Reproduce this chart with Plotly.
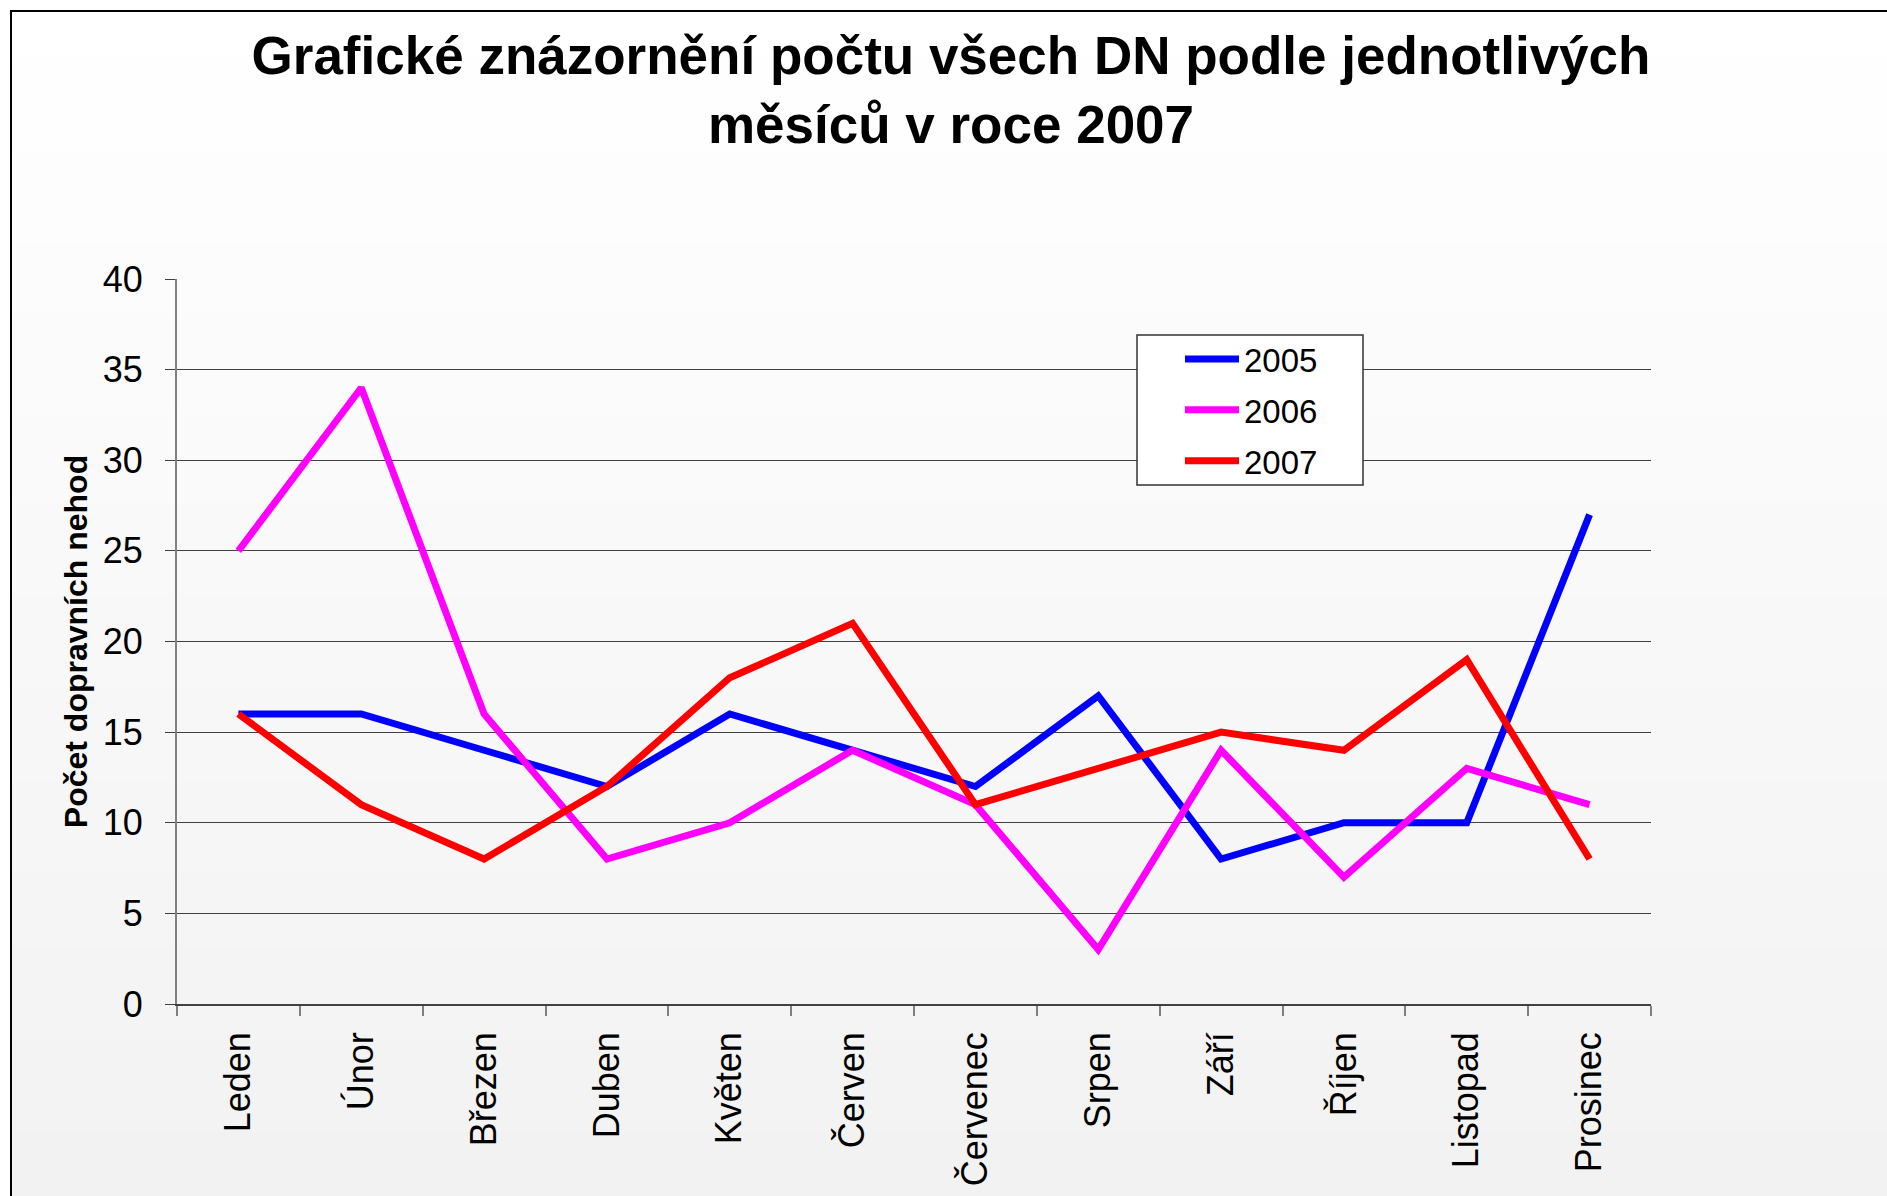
import zlib, struct, base64
import plotly.graph_objects as go

months = ["Leden", "Únor", "Březen", "Duben", "Květen", "Červen",
          "Červenec", "Srpen", "Září", "Říjen", "Listopad", "Prosinec"]
y2005 = [16, 16, 14, 12, 16, 14, 12, 17, 8, 10, 10, 27]
y2006 = [25, 34, 16, 8, 10, 14, 11, 3, 14, 7, 13, 11]
y2007 = [16, 11, 8, 12, 18, 21, 11, 13, 15, 14, 19, 8]
series_names = ["2005", "2006", "2007"]
series_colors = ["#0000FF", "#FF00FF", "#FF0000"]
y_ticks = [0, 5, 10, 15, 20, 25, 30, 35, 40]

W, H = 1887, 1196
L, R, T, B = 177, 1651, 279, 1004
PW, PH = R - L, B - T

def px_x(p):
    return (p - L) / PW

def px_y(p):
    return (B - p) / PH

def png_gray(vals, width=2):
    raw = b"".join(b"\x00" + bytes([v]) * width for v in vals)
    def chunk(t, d):
        c = struct.pack(">I", len(d)) + t + d
        return c + struct.pack(">I", zlib.crc32(t + d) & 0xffffffff)
    ihdr = struct.pack(">IIBBBBB", width, len(vals), 8, 0, 0, 0, 0)
    return (b"\x89PNG\r\n\x1a\n" + chunk(b"IHDR", ihdr)
            + chunk(b"IDAT", zlib.compress(raw)) + chunk(b"IEND", b""))

n = 64
grad = [round(255 - 13 * i / (n - 1)) for i in range(n)]
grad_uri = "data:image/png;base64," + base64.b64encode(png_gray(grad)).decode()

fig = go.Figure()
for name, vals, col in zip(series_names, [y2005, y2006, y2007], series_colors):
    fig.add_trace(go.Scatter(x=months, y=vals, name=name, mode="lines",
                             line=dict(color=col, width=7), legendgroup=name))

fig.update_layout(
    width=W, height=H,
    margin=dict(l=L, r=W - R, t=T, b=H - B, autoexpand=False),
    paper_bgcolor="white",
    plot_bgcolor="rgba(0,0,0,0)",
    font=dict(family="Liberation Sans, Arial, sans-serif", color="black"),
    title=dict(text="<b>Grafické znázornění počtu všech DN podle jednotlivých<br>měsíců v roce 2007</b>",
               x=951 / W, xanchor="center", y=1 - 74 / H, yanchor="top",
               font=dict(size=53, color="black")),
    showlegend=True,
    legend=dict(x=px_x(1180), y=px_y(331), xanchor="left", yanchor="top",
                bgcolor="rgba(0,0,0,0)", borderwidth=0,
                font=dict(size=33), traceorder="grouped", tracegroupgap=5,
                itemwidth=54),
    images=[dict(source=grad_uri, xref="paper", yref="paper",
                 x=px_x(11), y=px_y(11), sizex=(W - 11) / PW, sizey=(H - 11) / PH,
                 xanchor="left", yanchor="top", sizing="stretch", layer="below")],
    shapes=[
        dict(type="rect", xref="paper", yref="paper",
             x0=px_x(11), x1=px_x(W + 20), y0=px_y(H + 20), y1=px_y(11),
             line=dict(color="black", width=2), layer="below"),
        dict(type="rect", xref="paper", yref="paper",
             x0=px_x(1137), x1=px_x(1363), y0=px_y(485), y1=px_y(335),
             line=dict(color="#333333", width=1.5), fillcolor="white", layer="above"),
    ],
)

fig.update_xaxes(
    type="category", categoryorder="array", categoryarray=months,
    range=[-0.5, 11.5], tickson="boundaries", ticks="outside", ticklen=10,
    tickcolor="#7f7f7f", tickwidth=1.5, tickangle=-90,
    tickfont=dict(size=36), showline=True, linecolor="#404040", linewidth=1.5,
    showgrid=False, zeroline=False, ticklabelstandoff=12,
)
fig.update_yaxes(
    range=[0, 40], tickvals=y_ticks, ticks="outside", ticklen=10,
    tickcolor="#404040", tickwidth=1, tickfont=dict(size=36),
    showgrid=True, gridcolor="#404040", gridwidth=1,
    showline=True, linecolor="#808080", linewidth=2, zeroline=False,
    ticklabelstandoff=15,
    title=dict(text="<b>Počet dopravních nehod</b>", font=dict(size=32), standoff=6),
)

fig.write_html("out.html", config={"displayModeBar": False},
               post_script="document.body.style.margin='0px';")
